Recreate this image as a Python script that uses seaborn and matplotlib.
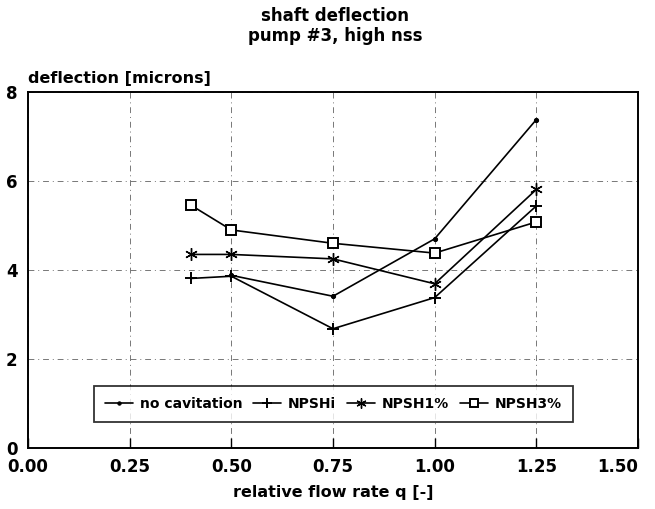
import numpy as np
import pandas as pd
import matplotlib.pyplot as plt
import seaborn as sns

# 데이터
q_nocav = [0.5, 0.75, 1.0, 1.25]
nocav = [3.88, 3.41, 4.70, 7.38]
q_all = [0.4, 0.5, 0.75, 1.0, 1.25]
npshi = [3.81, 3.86, 2.68, 3.38, 5.44]
npsh1 = [4.35, 4.35, 4.25, 3.69, 5.81]
npsh3 = [5.46, 4.90, 4.60, 4.38, 5.08]

x_ticks = [0.0, 0.25, 0.5, 0.75, 1.0, 1.25, 1.5]
y_ticks = [0, 2, 4, 6, 8]

sns.set_style("white")
plt.rcParams['font.family'] = ['DejaVu Sans']
plt.rcParams['text.color'] = 'black'
plt.rcParams['xtick.color'] = 'black'
plt.rcParams['ytick.color'] = 'black'
plt.rcParams['axes.labelcolor'] = 'black'

fig = plt.figure(figsize=(6.55, 5.09), dpi=100)
ax = fig.add_axes([28/655, 1 - 448/509, 610/655, 356/509])

common = dict(ax=ax, color="black", lw=1.2, markeredgecolor="black")
sns.lineplot(x=q_nocav, y=nocav, marker="o", markersize=3, label="no cavitation", **common)
sns.lineplot(x=q_all, y=npshi, marker="+", markersize=9, markeredgewidth=1.4,
             label="NPSHi", **common)
sns.lineplot(x=q_all, y=npsh1, marker=(6, 2, 0), markersize=9, markeredgewidth=1.0,
             label="NPSH1%", **common)
sns.lineplot(x=q_all, y=npsh3, marker="s", markersize=6.5, markerfacecolor="white",
             markeredgewidth=1.4, label="NPSH3%", **common)

ax.set_xlim(0, 1.5)
ax.set_ylim(0, 8)
ax.set_xticks(x_ticks)
ax.set_yticks(y_ticks)
ax.set_xticklabels([f"{t:.2f}" for t in x_ticks], fontsize=12, fontweight="bold")
ax.set_yticklabels([str(t) for t in y_ticks], fontsize=12, fontweight="bold")
ax.get_xticklabels()[-1].set_ha("right")
ax.tick_params(axis="x", direction="in", length=7, width=1, pad=7, bottom=True)
ax.tick_params(axis="y", left=False, pad=4)
ax.grid(True, color="#777777", lw=0.7, ls=(0, (6, 4, 1, 4)))
for s in ax.spines.values():
    s.set_color("black")
    s.set_linewidth(1.4)

ax.set_xlabel("relative flow rate q [-]", fontsize=11.5, fontweight="bold", labelpad=7)
ax.set_ylabel("")
fig.text(28/655, 1 - 78/509, "deflection [microns]", fontsize=11.5, fontweight="bold", va="center")
fig.text(335/655, 1 - 16/509, "shaft deflection", ha="center", va="center",
         fontsize=12, fontweight="bold")
fig.text(335/655, 1 - 36/509, "pump #3, high nss", ha="center", va="center",
         fontsize=12, fontweight="bold")

leg = ax.legend(loc="lower left", bbox_to_anchor=(0.097, 0.053, 0.808, 0.11), mode="expand",
                ncol=4, frameon=True, fancybox=False, edgecolor="black",
                fontsize=10, handlelength=2.0, handletextpad=0.5, borderpad=0.8,
                markerscale=0.8)
leg.get_frame().set_linewidth(1.3)
for t in leg.get_texts():
    t.set_fontweight("bold")

fig.savefig("out.png", dpi=100)
